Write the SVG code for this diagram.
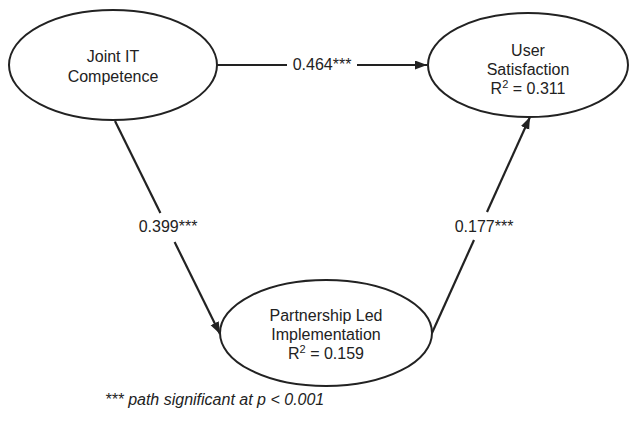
<svg xmlns="http://www.w3.org/2000/svg" width="629" height="423" viewBox="0 0 629 423">
<style>
.node ellipse{fill:#fff;stroke:#222;stroke-width:2}
text{font-family:"Liberation Sans",Arial,sans-serif;font-size:16px;fill:#222}
.c{text-anchor:middle}
.edge{stroke:#222;stroke-width:2.2;fill:none}
.fn{font-style:italic}
</style>
<defs>
<marker id="ah" markerUnits="userSpaceOnUse" markerWidth="14" markerHeight="10" refX="12" refY="4.5" orient="auto">
<path d="M0,0 L12,4.5 L0,9 z" fill="#222"/>
</marker>
</defs>
<rect width="629" height="423" fill="#fff"/>
<g id="connectors">
<line class="edge" x1="217" y1="65" x2="287" y2="65"/>
<line class="edge" x1="357" y1="65" x2="427" y2="65" marker-end="url(#ah)"/>
<text x="322" y="70" class="c">0.464***</text>
<line class="edge" x1="115" y1="121" x2="160.4" y2="213"/>
<line class="edge" x1="174.6" y1="242" x2="220" y2="334" marker-end="url(#ah)"/>
<text x="168" y="232" class="c">0.399***</text>
<line class="edge" x1="432" y1="333" x2="474" y2="240"/>
<line class="edge" x1="487" y1="212" x2="530" y2="117" marker-end="url(#ah)"/>
<text x="484" y="232" class="c">0.177***</text>
</g>
<g id="jit" class="node">
<ellipse cx="113" cy="65" rx="104" ry="55"/>
<text x="113" y="62" class="c">Joint IT</text>
<text x="113" y="82" class="c">Competence</text>
</g>
<g id="us" class="node">
<ellipse cx="528" cy="65" rx="100" ry="52"/>
<text x="528" y="56" class="c">User</text>
<text x="528" y="75" class="c">Satisfaction</text>
<text x="528" y="94" class="c">R<tspan dy="-6" font-size="11">2</tspan><tspan dy="6"> = 0.311</tspan></text>
</g>
<g id="pli" class="node">
<ellipse cx="326" cy="333" rx="106" ry="53"/>
<text x="326" y="321" class="c">Partnership Led</text>
<text x="326" y="340" class="c">Implementation</text>
<text x="326" y="359" class="c">R<tspan dy="-6" font-size="11">2</tspan><tspan dy="6"> = 0.159</tspan></text>
</g>
<text x="105" y="405" class="fn" font-size="15">*** path significant at p &lt; 0.001</text>
</svg>
